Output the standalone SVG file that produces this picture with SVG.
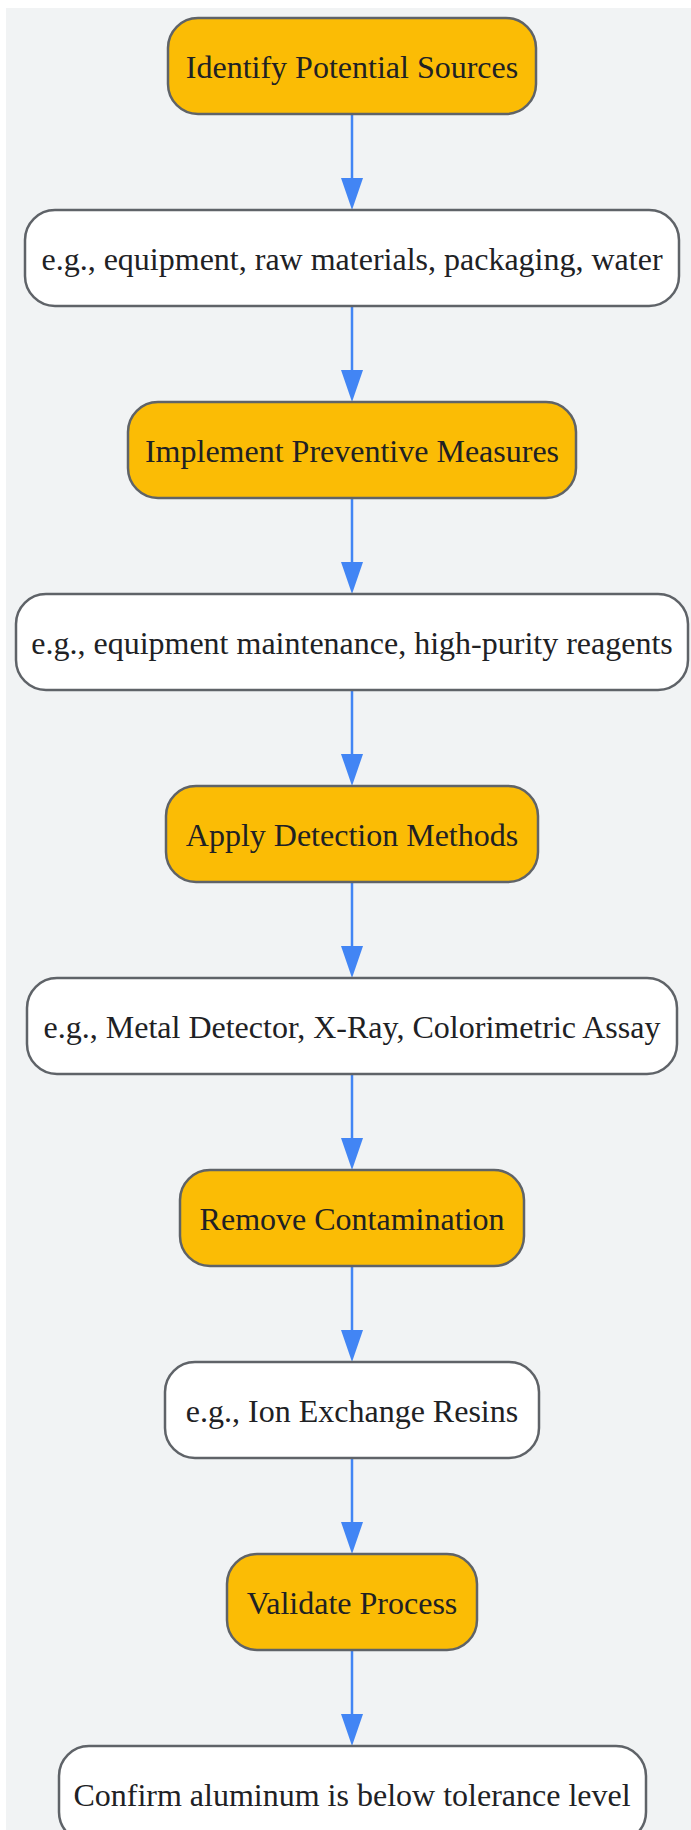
<svg xmlns="http://www.w3.org/2000/svg" width="691" height="1830" viewBox="0 0 691 1830">
<style>
.bg{fill:#F1F3F4}
.n rect{stroke:#5F6368;stroke-width:2.5}
.step rect{fill:#FBBC05}
.ex rect{fill:#FFFFFF}
.n text{font-family:"Liberation Serif","Times New Roman",serif;font-size:32px;fill:#202124;text-anchor:middle}
.e line{stroke:#4285F4;stroke-width:2.5}
.e polygon{fill:#4285F4}
</style>
<rect class="bg" x="6" y="8" width="700" height="1840"/>
<g id="edges" class="e">
<line x1="352" y1="115" x2="352" y2="180"/><polygon points="341,178 363,178 352,210"/>
<line x1="352" y1="307" x2="352" y2="372"/><polygon points="341,370 363,370 352,402"/>
<line x1="352" y1="499" x2="352" y2="564"/><polygon points="341,562 363,562 352,594"/>
<line x1="352" y1="691" x2="352" y2="756"/><polygon points="341,754 363,754 352,786"/>
<line x1="352" y1="883" x2="352" y2="948"/><polygon points="341,946 363,946 352,978"/>
<line x1="352" y1="1075" x2="352" y2="1140"/><polygon points="341,1138 363,1138 352,1170"/>
<line x1="352" y1="1267" x2="352" y2="1332"/><polygon points="341,1330 363,1330 352,1362"/>
<line x1="352" y1="1459" x2="352" y2="1524"/><polygon points="341,1522 363,1522 352,1554"/>
<line x1="352" y1="1651" x2="352" y2="1716"/><polygon points="341,1714 363,1714 352,1746"/>
</g>
<g id="n1" class="n step"><rect x="168" y="18" width="368" height="96" rx="30"/><text x="352" y="78">Identify Potential Sources</text></g>
<g id="n2" class="n ex"><rect x="25" y="210" width="654" height="96" rx="30"/><text x="352" y="270">e.g., equipment, raw materials, packaging, water</text></g>
<g id="n3" class="n step"><rect x="128" y="402" width="448" height="96" rx="30"/><text x="352" y="462">Implement Preventive Measures</text></g>
<g id="n4" class="n ex"><rect x="16" y="594" width="672" height="96" rx="30"/><text x="352" y="654">e.g., equipment maintenance, high-purity reagents</text></g>
<g id="n5" class="n step"><rect x="166" y="786" width="372" height="96" rx="30"/><text x="352" y="846">Apply Detection Methods</text></g>
<g id="n6" class="n ex"><rect x="27" y="978" width="650" height="96" rx="30"/><text x="352" y="1038">e.g., Metal Detector, X-Ray, Colorimetric Assay</text></g>
<g id="n7" class="n step"><rect x="180" y="1170" width="344" height="96" rx="30"/><text x="352" y="1230">Remove Contamination</text></g>
<g id="n8" class="n ex"><rect x="165" y="1362" width="374" height="96" rx="30"/><text x="352" y="1422">e.g., Ion Exchange Resins</text></g>
<g id="n9" class="n step"><rect x="227" y="1554" width="250" height="96" rx="30"/><text x="352" y="1614">Validate Process</text></g>
<g id="n10" class="n ex"><rect x="59" y="1746" width="587" height="96" rx="30"/><text x="352" y="1806">Confirm aluminum is below tolerance level</text></g>
</svg>
